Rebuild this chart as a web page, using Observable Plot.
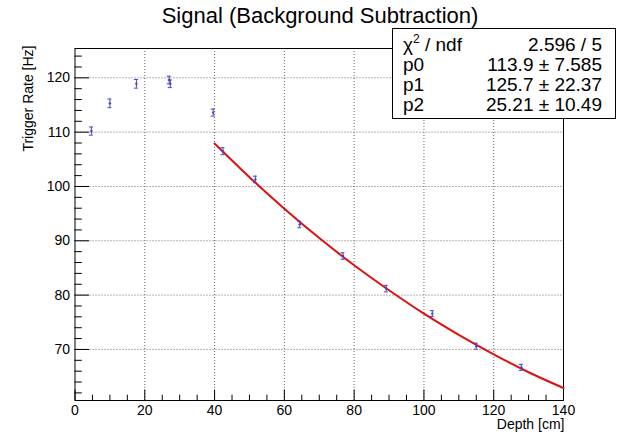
<!DOCTYPE html>
<html><head><meta charset="utf-8">
<script src="https://cdn.jsdelivr.net/npm/d3@7"></script>
<script src="https://cdn.jsdelivr.net/npm/@observablehq/plot@0.6"></script>
<style>
body{margin:0;background:#fff;font-family:"Liberation Sans",Arial,Helvetica,sans-serif;color:#000;}
#wrap{position:relative;width:619px;height:434px;overflow:hidden;}
#title{position:absolute;left:0;width:640px;top:5.4px;text-align:center;font-size:22px;line-height:22px;white-space:nowrap;}
#stats{position:absolute;left:392px;top:28px;width:224px;height:91px;box-sizing:border-box;border:1px solid #000;background:#fff;}
.row{position:absolute;font-size:19px;line-height:20px;white-space:nowrap;}
.nm{left:403px;}
.val{right:17px;text-align:right;}
.sup{font-size:12px;position:relative;top:-8px;}
</style></head><body>
<div id="wrap"></div>
<script>
// ---- data ----
const depth   = [4.7, 10.0, 17.6, 27.0, 27.3, 39.6, 42.4, 51.7, 64.4, 76.8, 89.2, 102.4, 115.0, 127.9];
const rate    = [110.2, 115.3, 118.9, 119.6, 118.9, 113.6, 106.5, 101.3, 93.0, 87.2, 81.2, 76.6, 70.6, 66.7];
const rateErr = [0.75, 0.8, 0.8, 0.7, 0.7, 0.65, 0.65, 0.6, 0.6, 0.6, 0.6, 0.55, 0.55, 0.55];

const fitDepth = [40, 50, 60, 70, 80, 90, 100, 110, 120, 130, 140];
const fitRate  = [107.9, 101.7, 95.9, 90.5, 85.5, 80.9, 76.6, 72.7, 69.1, 65.8, 62.9];

const xMajor = [0, 20, 40, 60, 80, 100, 120, 140];
const yMajor = [70, 80, 90, 100, 110, 120];
const xGridLines = [20, 40, 60, 80, 100, 120];
const yGridLines = [70, 80, 90, 100, 110, 120];
const xMinor = d3.range(5, 140, 5).filter(v => v % 20 !== 0);
const yMinor = d3.range(62, 126, 2).filter(v => v % 10 !== 0);

const titleText = "Signal (Background Subtraction)";
const xLabel = "Depth [cm]";
const yLabel = "Trigger Rate [Hz]";
const statNames  = ["χ<span class='sup'>2</span> / ndf", "p0", "p1", "p2"];
const statValues = ["2.596 / 5", "113.9 ± 7.585", "125.7 ± 22.37", "25.21 ± 10.49"];

// ---- layout ----
const W = 619, H = 434;
const mL = 74.5, mR = 56, mT = 48, mB = 34;
const fw = W - mL - mR, fh = H - mT - mB;
const blue = "#4646c8", red = "#dd1111";
const pts = depth.map((d, i) => ({x: d, y: rate[i], e: rateErr[i]}));
const fit = fitDepth.map((d, i) => ({x: d, y: fitRate[i]}));

const chart = Plot.plot({
  width: W, height: H,
  marginLeft: mL, marginRight: mR, marginTop: mT, marginBottom: mB,
  style: {fontFamily: '"Liberation Sans", Arial, sans-serif', background: "#fff", color: "#000"},
  x: {domain: [0, 140]},
  y: {domain: [60.6, 125.4]},
  marks: [
    Plot.gridX(xGridLines, {stroke: "#666", strokeOpacity: 1, strokeDasharray: "1,2"}),
    Plot.gridY(yGridLines, {stroke: "#666", strokeOpacity: 1, strokeDasharray: "1,2"}),
    Plot.frame({stroke: "#000", strokeWidth: 1}),
    Plot.tickX(xMajor, {x: d => d, stroke: "#000", insetTop: fh - 10.5}),
    Plot.tickX(xMinor, {x: d => d, stroke: "#000", insetTop: fh - 5.3}),
    Plot.tickY(yMajor, {y: d => d, stroke: "#000", insetRight: fw - 14.5}),
    Plot.tickY(yMinor, {y: d => d, stroke: "#000", insetRight: fw - 7.3}),
    Plot.axisX(xMajor, {tickSize: 0, tickPadding: 5, fontSize: 14, label: null, tickFormat: d => String(d)}),
    Plot.axisY(yMajor, {tickSize: 0, tickPadding: 5, fontSize: 14, label: null, tickFormat: d => String(d)}),
    Plot.text([xLabel], {frameAnchor: "bottom-right", textAnchor: "end", dx: 1, dy: 28.5, fontSize: 14, fill: "#000"}),
    Plot.text([yLabel], {frameAnchor: "top-left", rotate: -90, textAnchor: "end", dx: -52, dy: -3, fontSize: 14, fill: "#000"}),
    Plot.line(fit, {x: "x", y: "y", stroke: red, strokeWidth: 2, curve: "natural"}),
    Plot.ruleX(pts, {x: "x", y1: d => d.y - d.e, y2: d => d.y + d.e, stroke: blue, strokeWidth: 1}),
    Plot.ruleY(pts, {y: d => d.y + d.e, x1: "x", x2: "x", insetLeft: -2, insetRight: -2, stroke: blue}),
    Plot.ruleY(pts, {y: d => d.y - d.e, x1: "x", x2: "x", insetLeft: -2, insetRight: -2, stroke: blue}),
    Plot.dot(pts, {x: "x", y: "y", r: 1.2, fill: blue, stroke: null})
  ]
});

const wrap = document.getElementById("wrap");
wrap.appendChild(chart);
const t = document.createElement("div");
t.id = "title"; t.textContent = titleText;
wrap.appendChild(t);
const box = document.createElement("div");
box.id = "stats";
wrap.appendChild(box);
statNames.forEach((n, i) => {
  const top = 35.1 + i * 19.8;
  const a = document.createElement("div");
  a.className = "row nm"; a.style.top = top + "px"; a.innerHTML = n;
  wrap.appendChild(a);
  const b = document.createElement("div");
  b.className = "row val"; b.style.top = top + "px"; b.textContent = statValues[i];
  wrap.appendChild(b);
});
</script>
</body></html>
